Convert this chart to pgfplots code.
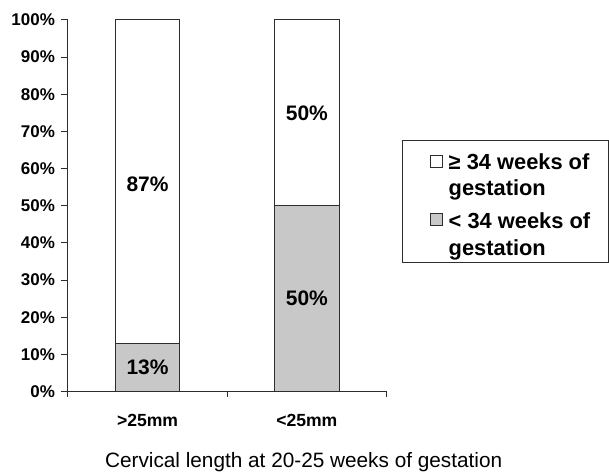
\documentclass[border=0pt]{standalone}
\usepackage{pgfplots}
\pgfplotsset{compat=1.18}
\usepackage{fontspec}
\setmainfont{Liberation Sans}
\setsansfont{Liberation Sans}
\definecolor{bargray}{RGB}{200,200,200}
\definecolor{edge}{RGB}{45,45,45}
\newcommand{\lbl}{\bfseries\fontsize{12.75}{15}\selectfont}
\newcommand{\lblx}{\bfseries\fontsize{13.2}{15}\selectfont}
\newcommand{\dat}{\bfseries\fontsize{15.75}{18}\selectfont}
\newcommand{\leg}{\bfseries\fontsize{16.4}{20}\selectfont}
\begin{document}
\begin{tikzpicture}
\begin{axis}[
  scale only axis, width=239.25pt, height=279pt,
  clip=false,
  ybar stacked, bar width=0.406,
  xmin=-0.5, xmax=1.5, ymin=0, ymax=100,
  axis lines*=left,
  axis line style={edge, line width=0.75pt},
  every tick/.style={edge, line width=0.75pt},
  tick align=outside,
  xtick={0,1}, xticklabels={>25mm,<25mm},
  major x tick style={draw=none},
  minor xtick={-0.5,0.5,1.5},
  minor tick length=4pt,
  major tick length=5.25pt,
  ytick={0,10,...,100},
  yticklabels={0\%,10\%,20\%,30\%,40\%,50\%,60\%,70\%,80\%,90\%,100\%},
  yticklabel style={font=\lbl, xshift=-1pt},
  xticklabel style={font=\lblx, yshift=-8pt},
  xlabel={Cervical length at 20-25 weeks of gestation},
  xlabel style={at={(axis description cs:0.74,-0.204)}, anchor=base, font=\fontsize{15.6}{18}\selectfont},
  reverse legend,
  legend style={at={(axis description cs:1.050,0.677)}, anchor=north west,
    draw=edge, line width=0.75pt, font=\leg,
    cells={anchor=west},
    nodes={inner xsep=4.5pt, inner ysep=1pt},
    inner xsep=1.5pt, inner ysep=2.7pt, row sep=9.5pt},
]
\addplot[fill=bargray, draw=edge, line width=0.75pt,
  legend image code/.code={\path (-18.75pt,0pt); \draw[fill=bargray, draw=edge, line width=0.6pt] (0pt,7.1pt) rectangle (9pt,16.1pt);}]
  coordinates {(0,13) (1,50)};
\addlegendentry{\parbox[b]{114pt}{< 34 weeks of\\gestation}}
\addplot[fill=white, draw=edge, line width=0.75pt,
  legend image code/.code={\path (-18.75pt,0pt); \draw[fill=white, draw=edge, line width=0.6pt] (0pt,3.2pt) rectangle (9pt,12.2pt);}]
  coordinates {(0,87) (1,50)};
\addlegendentry{\parbox[b]{114pt}{\rule{0pt}{17.75pt}≥ 34 weeks of\\gestation}}
\coordinate (l1) at (axis cs:0,55.8);
\coordinate (l2) at (axis cs:0,6.5);
\coordinate (l3) at (axis cs:1,75);
\coordinate (l4) at (axis cs:1,25);
\path (axis description cs:-0.2132,-0.2124) rectangle (axis description cs:1.6959,1.0538);
\end{axis}
\node[font=\dat] at (l1) {87\%};
\node[font=\dat] at (l2) {13\%};
\node[font=\dat] at (l3) {50\%};
\node[font=\dat] at (l4) {50\%};
\end{tikzpicture}
\end{document}
